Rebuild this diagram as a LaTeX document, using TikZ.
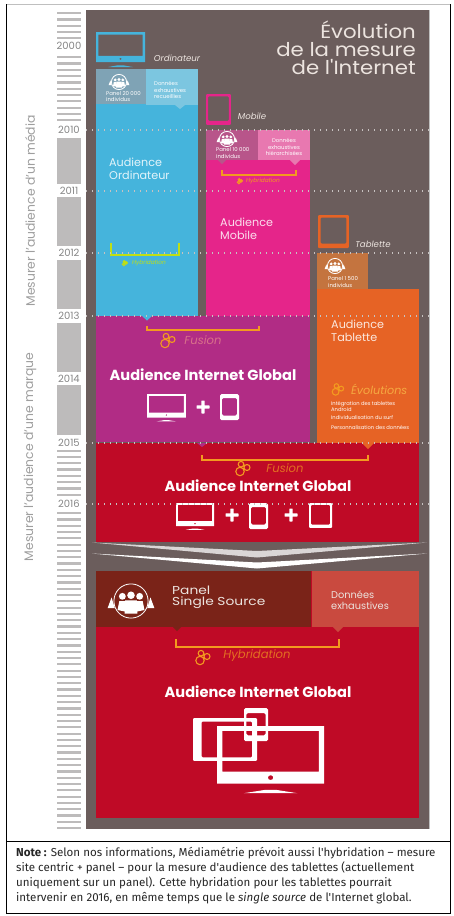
\documentclass[tikz,border=0pt]{standalone}
\usepackage{fontspec}
\setmainfont{Poppins}
\newfontfamily\notefont{Fira Sans}
\newfontfamily\titlefont[FakeStretch=1.12]{Poppins}
\newfontfamily\singlefont[FakeStretch=1.2]{Poppins}
\usetikzlibrary{calc}

\definecolor{panelbrown}{HTML}{6B5D5C}
\definecolor{axisgray}{HTML}{BDBBBB}
\definecolor{blueaud}{HTML}{45B4DC}
\definecolor{bluedark}{HTML}{7FA3B5}
\definecolor{bluelight}{HTML}{7CC6E0}
\definecolor{pinkaud}{HTML}{E5258A}
\definecolor{pinkdark}{HTML}{B8558A}
\definecolor{pinklight}{HTML}{E878B0}
\definecolor{orangeaud}{HTML}{E66325}
\definecolor{orangedark}{HTML}{C4743F}
\definecolor{purpleaud}{HTML}{B12C85}
\definecolor{redaud}{HTML}{BF0A26}
\definecolor{reddark}{HTML}{7A2318}
\definecolor{redlight}{HTML}{C94A3F}
\definecolor{bracketorange}{HTML}{F39A1F}
\definecolor{fusionpink}{HTML}{D9708A}
\definecolor{paletext}{HTML}{ECE4DF}

\tikzset{
    panelicon/.pic={
        \draw[white, line width=0.8pt] (0,0) circle (9.5);
        \fill[white] (-4.8,-2.6) circle (1.9) (0,-3.2) circle (2.1) (4.8,-2.6) circle (1.9);
        \fill[white] (-7.5,5) -- (-6.5,0) -- (-3,0) -- (-2.5,6) -- cycle;
        \fill[white] (7.5,5) -- (6.5,0) -- (3,0) -- (2.5,6) -- cycle;
        \fill[white] (-3.6,7) -- (-3.2,-0.4) -- (3.2,-0.4) -- (3.6,7) -- cycle;
        \fill[white] (-13,4) -- (-10.8,-2) -- (-9,4) -- cycle (13,4) -- (10.8,-2) -- (9,4) -- cycle;
    },
    gearicon/.pic={
        \draw[#1, line width=1.1pt] (-2,-3.8) circle (2.8) (4,-0.5) circle (3) (-3,3.5) circle (4.2);
    },
    monitoricon/.pic={
        \fill[#1, even odd rule] (0,0) rectangle (40,24) (2,2) rectangle (38,19) (20,21.5) circle (1);
        \fill[#1] (10,28) -- (18,26.6) -- (22,26.6) -- (30,28) -- cycle;
    },
    phoneicon/.pic={
        \fill[#1, even odd rule, rounded corners=1.5pt] (0,0) rectangle (20,26) (2,4) rectangle (18,21.5);
    },
    tableticon/.pic={
        \fill[#1, even odd rule, rounded corners=1pt] (0,0) rectangle (24,26) (2,2) rectangle (22,22.5);
    },
    plussign/.pic={
        \fill[white, rounded corners=0.5pt] (-6.5,-1.6) rectangle (6.5,1.6) (-1.6,-6.5) rectangle (1.6,6.5);
    },
    audblock/.style={inner sep=0pt, align=left, anchor=west, font=\fontsize{11.2}{12.8}\selectfont, text=#1},
    globaltext/.style={inner sep=0pt, text=white, font=\fontsize{14.6}{16}\selectfont\bfseries},
    devicetext/.style={inner sep=0pt, text=paletext, font=\fontsize{8.6}{10}\selectfont\itshape},
    methodtext/.style={inner sep=0pt, text=#1, font=\fontsize{11.6}{13}\selectfont\itshape},
    tinytext/.style={inner sep=0pt, align=left, anchor=west, text=white, font=\fontsize{5.4}{6.2}\selectfont},
    hybridsmall/.style={inner sep=0pt, text=#1, font=\fontsize{5.8}{7}\selectfont\itshape},
    yeartext/.style={inner sep=0pt, text=black!48, font=\fontsize{10}{11}\selectfont},
    axistext/.style={inner sep=0pt, rotate=90, text=black!38, font=\fontsize{12.4}{14}\selectfont},
    yearline/.style={white!62!panelbrown, line width=1.3pt, dash pattern=on 1.4pt off 4.6pt},
    bracketline/.style={#1, line width=1.1pt}
}

\begin{document}
\begin{tikzpicture}[x=1pt, y=-1pt]
\useasboundingbox (0,0) rectangle (453,916);

% Frame
\draw[black!25, line width=0.6pt] (6,4) -- (450,4);
\draw[black, line width=0.9pt] (6,4) -- (6,913) -- (450,913) -- (450,4);
\draw[black, line width=0.9pt] (6,841) -- (450,841);

% Year axis
\foreach \ystripe in {12,18.3,...,122}
    \fill[axisgray] (57,\ystripe) rectangle (81,\ystripe+2.2);
\foreach \ystripe in {449.5,455.8,...,496}
    \fill[axisgray] (57,\ystripe) rectangle (81,\ystripe+2.2);
\foreach \ystripe in {512,518.3,...,830}
    \fill[axisgray] (57,\ystripe) rectangle (81,\ystripe+2.2);
\foreach \ytop/\ybot in {138/184, 197/246, 260/309, 323/372, 385/435}
    \fill[axisgray] (57,\ytop) rectangle (81,\ybot);
\fill[white] (57,39) rectangle (81,53);
\foreach \yr/\ypos in {2000/46, 2010/130, 2011/191, 2012/253, 2013/316, 2014/379, 2015/443, 2016/504}
    \node (y\yr) [yeartext] at (69,\ypos) {\yr};
\node (axismedia) [axistext] at (30,211) {Mesurer l'audience d'un média};
\node (axismarque) [axistext] at (30,457) {Mesurer l'audience d'une marque};

% Background
\fill[panelbrown] (86,10) rectangle (429,829);
\draw[black!25, line width=1pt] (429,10) -- (429,829);
\node (title) [inner sep=0pt, anchor=north east, align=right, text=paletext, font=\titlefont\fontsize{19}{18}\selectfont] at (416,21) {Évolution\\de la mesure\\de l'Internet};

% Ordinateur
\pic at (96,32) [xscale=1.225, yscale=1.25] {monitoricon=blueaud};
\node (ordi) [devicetext] at (177,58) {Ordinateur};
\fill[blueaud] (96,69) rectangle (198,316);
\fill[bluelight] (146,69) rectangle (198,105);
\fill[bluelight] (175,105) -- (185,105) -- (180,109) -- cycle;
\fill[bluedark] (96,69) rectangle (146,104);
\pic at (119,82) [scale=0.8] {panelicon};
\node (panelordi) [tinytext] at (106,96.5) {Panel 20 000\\individus};
\node (donordi) [tinytext] at (154,90) {Données\\exhaustives\\recueillies};
\node (audordi) [audblock=white!85!blueaud] at (109,168.5) {Audience\\Ordinateur};
\draw[bracketline=yellow!75!green] (111,243) -- (111,255) -- (179,255) -- (179,243);
\pic at (125,263) [scale=0.35] {gearicon=yellow!75!green};
\node (hybordi) [hybridsmall=yellow!75!green] at (149,263) {Hybridation};

% Mobile
\pic at (206,94) [xscale=1.04, yscale=1.19] {tableticon=pinkaud};
\node (mobile) [devicetext] at (252,116) {Mobile};
\fill[pinkaud] (206,130) rectangle (310,316);
\fill[pinklight] (258,130) rectangle (310,160);
\fill[pinklight] (290,160) -- (300,160) -- (295,165) -- cycle;
\fill[pinkdark] (206,130) rectangle (258,160);
\fill[pinkdark] (218,160) -- (226,160) -- (222,164) -- cycle;
\pic at (227,139) [scale=0.8] {panelicon};
\node (panelmob) [tinytext] at (216,153) {Panel 10 000\\individus};
\node (donmob) [tinytext, align=center, anchor=center] at (284,147) {Données\\exhaustives\\hiérarchisées};
\draw[bracketline=bracketorange] (222,170) -- (222,175) -- (296,175) -- (296,170);
\pic at (240,181) [scale=0.35] {gearicon=bracketorange};
\node (hybmob) [hybridsmall=bracketorange] at (263,181) {Hybridation};
\node (audmob) [audblock=white!85!pinkaud] at (220,228.5) {Audience\\Mobile};

% Tablette
\pic at (318,215) [xscale=1.29, yscale=1.27] {tableticon=orangeaud};
\node (tablette) [devicetext] at (373,244) {Tablette};
\fill[orangedark] (317,253) rectangle (368,290);
\fill[orangeaud] (317,289) rectangle (419,443);
\pic at (335,266) [scale=0.8] {panelicon};
\node (paneltab) [tinytext] at (328,282) {Panel 1 500\\individus};
\node (audtab) [audblock=white!85!orangeaud] at (331,331) {Audience\\Tablette};
\pic at (338,389) [scale=0.8] {gearicon=bracketorange};
\node (evol) [inner sep=0pt, anchor=west, text=bracketorange!85!white, font=\fontsize{11.2}{13}\selectfont\itshape] at (351,389) {Évolutions};
\node (evolone) [tinytext, font=\fontsize{5.2}{6}\selectfont] at (331,406) {Intégration des tablettes\\Android};
\node (evoltwo) [tinytext, font=\fontsize{5.2}{6}\selectfont] at (331,418) {Individualisation du surf};
\node (evolthree) [tinytext, font=\fontsize{5.2}{6}\selectfont] at (331,427) {Personnalisation des données};

% Fusion 2013
\fill[purpleaud] (96,316) rectangle (310,442);
\fill[blueaud] (142,316) -- (152,316) -- (147,320.5) -- cycle;
\draw[bracketline=bracketorange] (147,326) -- (147,330) -- (259,330) -- (259,326);
\pic at (168,340) {gearicon=bracketorange};
\node (fusionone) [methodtext=fusionpink] at (203,340) {Fusion};
\node (globalone) [globaltext] at (203,375) {Audience Internet Global};
\pic at (147,394) [xscale=0.97, yscale=0.98] {monitoricon=white};
\pic at (203,407) {plussign};
\pic at (220,394) [xscale=0.95, yscale=1] {phoneicon=white};

% Fusion 2015
\fill[redaud] (96,443) rectangle (419,542);
\fill[purpleaud] (197,443) -- (207,443) -- (202,447) -- cycle;
\fill[orangeaud] (362,443) -- (374,443) -- (368,449) -- cycle;
\draw[bracketline=bracketorange] (202,455) -- (202,460) -- (368,460) -- (368,455);
\pic at (243,468) {gearicon=bracketorange};
\node (fusiontwo) [methodtext=bracketorange!70!redaud] at (285,468) {Fusion};
\node (globaltwo) [globaltext] at (258,486) {Audience Internet Global};
\pic at (176,503) [xscale=0.95, yscale=0.96] {monitoricon=white};
\pic at (232,515) {plussign};
\pic at (249,503) [xscale=0.95, yscale=1] {phoneicon=white};
\pic at (291,515) {plussign};
\pic at (309,503) [xscale=0.96, yscale=0.96] {tableticon=white};

% Year lines
\foreach \ypos in {130,191,253,316,443,504}
    \draw[yearline] (86,\ypos) -- (429,\ypos);

% Chevrons
\fill[white!75!panelbrown] (92,542.5) -- (257,551) -- (427,542.5) -- (257,557.5) -- cycle;
\fill[white] (92,553.5) -- (257,562.5) -- (427,553.5) -- (257,568.5) -- cycle;

% Single source
\fill[redaud] (96,571) rectangle (419,818);
\fill[reddark] (96,571) rectangle (311,627);
\fill[reddark] (173,627) -- (181,627) -- (177,631) -- cycle;
\fill[redlight] (312,571) rectangle (419,627);
\fill[redlight] (333,627) -- (343,627) -- (338,632) -- cycle;
\pic at (131,601) [scale=1.8] {panelicon};
\node (panelsingle) [inner sep=0pt, anchor=west, align=left, text=paletext, font=\singlefont\fontsize{11.5}{11}\selectfont] at (172,597.5) {Panel\\Single Source};
\node (donsingle) [inner sep=0pt, anchor=west, align=left, text=paletext, font=\fontsize{9.8}{10.8}\selectfont] at (331,600) {Données\\exhaustives};
\draw[bracketline=bracketorange] (176,639) -- (176,647) -- (339,647) -- (339,639);
\pic at (203,657) {gearicon=bracketorange};
\node (hybsingle) [methodtext=bracketorange!70!redaud] at (257,656) {Hybridation};
\node (globalthree) [globaltext] at (258,692) {Audience Internet Global};
\pic at (257,718) [rotate=-90, xscale=1.79, yscale=2.46] {tableticon=white};
\pic at (217,726) [xscale=2.68, yscale=2.4] {monitoricon=white};
\pic at (244,708) [xscale=1.2, yscale=1.27] {phoneicon=white};

% Note
\node (note) [inner sep=0pt, anchor=north west, align=left, text=black!85, font=\notefont\fontsize{11.55}{15}\selectfont] at (16,847.5) {\textbf{Note :} Selon nos informations, Médiamétrie prévoit aussi l'hybridation – mesure\\site centric + panel – pour la mesure d'audience des tablettes (actuellement\\uniquement sur un panel). Cette hybridation pour les tablettes pourrait\\intervenir en 2016, en même temps que le \textit{single source} de l'Internet global.};
\end{tikzpicture}
\end{document}
